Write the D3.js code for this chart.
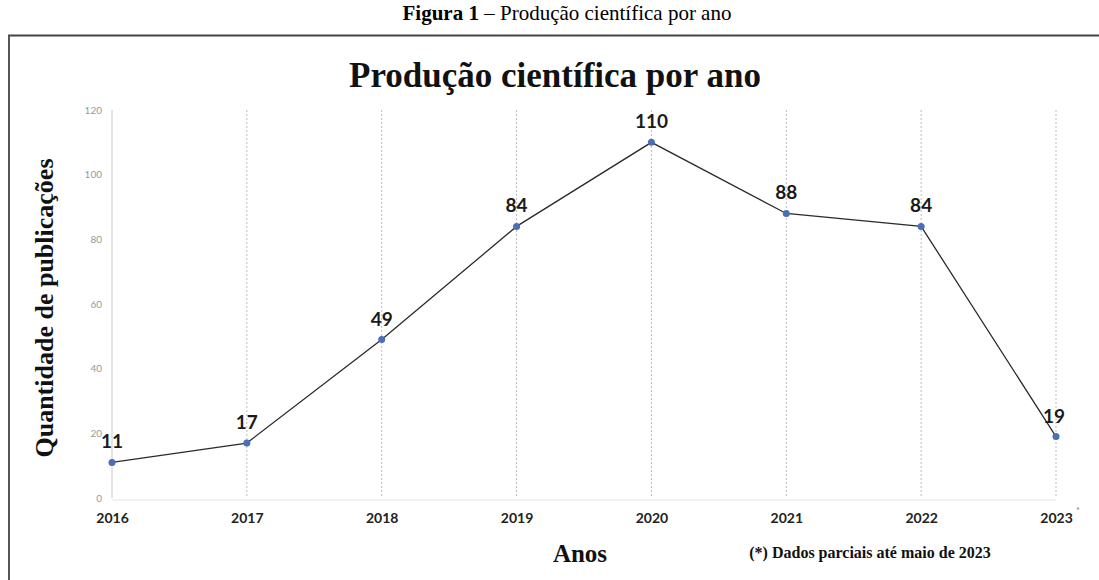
<!DOCTYPE html>
<html>
<head>
<meta charset="utf-8">
<script src="https://cdn.jsdelivr.net/npm/d3@7"></script>
<style>
  body { margin: 0; background: #fff; }
  svg { display: block; }
</style>
</head>
<body>
<script>
var anos = ["2016","2017","2018","2019","2020","2021","2022","2023"];
var publicacoes = [11,17,49,84,110,88,84,19];
var yTicks = [0,20,40,60,80,100,120];

var w = 1099, h = 580;
var svg = d3.select("body").append("svg")
    .attr("width", w)
    .attr("height", h);

// moldura da figura
svg.append("line").attr("x1", 8).attr("x2", w).attr("y1", 35.5).attr("y2", 35.5)
    .attr("stroke", "#444").attr("stroke-width", 2);
svg.append("line").attr("x1", 9).attr("x2", 9).attr("y1", 35).attr("y2", h)
    .attr("stroke", "#555").attr("stroke-width", 2);

// legenda da figura
var cap = svg.append("text")
    .attr("x", 567).attr("y", 20)
    .attr("text-anchor", "middle")
    .style("font-family", "'Liberation Serif', 'Times New Roman', serif")
    .style("font-size", "21px");
cap.append("tspan").attr("font-weight", "bold").text("Figura 1");
cap.append("tspan").text(" – Produção científica  por ano");

// titulo
svg.append("text")
    .attr("x", 555).attr("y", 87)
    .attr("text-anchor", "middle")
    .style("font-family", "'Liberation Serif', 'Times New Roman', serif")
    .style("font-weight", "bold")
    .style("font-size", "35px")
    .style("fill", "#111")
    .text("Produção científica por ano");

var x = d3.scalePoint()
    .domain(anos)
    .range([112, 1056]);

var y = d3.scaleLinear()
    .domain([0, 120])
    .range([498, 110]);

// linhas verticais pontilhadas
svg.selectAll(".grade")
    .data(anos)
    .enter().append("line")
    .attr("class", "grade")
    .attr("x1", function(d){ return x(d); })
    .attr("x2", function(d){ return x(d); })
    .attr("y1", y(120))
    .attr("y2", y(0))
    .attr("stroke", function(d,i){ return i == 0 ? "#c8c8c8" : "#bbb"; })
    .attr("stroke-width", 1)
    .attr("stroke-dasharray", function(d,i){ return i == 0 ? null : "2,2"; });

// linha base
svg.append("line")
    .attr("x1", x(anos[0])).attr("x2", x(anos[anos.length-1]))
    .attr("y1", y(0) + 2).attr("y2", y(0) + 2)
    .attr("stroke", "#e2e2e2");

// eixo y
var eixoY = svg.append("g")
    .attr("transform", "translate(" + (x(anos[0]) - 8) + ",0)")
    .call(d3.axisLeft(y).tickValues(yTicks).tickSize(0).tickPadding(2));
eixoY.select(".domain").remove();
eixoY.selectAll("text")
    .style("font-family", "Lato, 'Open Sans', sans-serif")
    .style("font-size", "10px")
    .style("fill", "#999");

// eixo x
var eixoX = svg.append("g")
    .attr("transform", "translate(0," + (y(0) + 12) + ")")
    .call(d3.axisBottom(x).tickSize(0).tickPadding(3));
eixoX.select(".domain").remove();
eixoX.selectAll("text")
    .style("font-family", "Lato, 'Open Sans', sans-serif")
    .style("font-weight", "bold")
    .style("font-size", "14px")
    .style("fill", "#222");

// asterisco 2023
svg.append("text")
    .attr("x", x("2023") + 20).attr("y", 514)
    .style("font-family", "Lato, sans-serif")
    .style("font-size", "9px")
    .style("fill", "#777")
    .text("*");

// linha
var linha = d3.line()
    .x(function(d,i){ return x(anos[i]); })
    .y(function(d){ return y(d); });

svg.append("path")
    .datum(publicacoes)
    .attr("d", linha)
    .attr("fill", "none")
    .attr("stroke", "#2b2b2b")
    .attr("stroke-width", 1.3);

svg.selectAll(".ponto")
    .data(publicacoes)
    .enter().append("circle")
    .attr("class", "ponto")
    .attr("cx", function(d,i){ return x(anos[i]); })
    .attr("cy", function(d){ return y(d); })
    .attr("r", 3.5)
    .attr("fill", "#4a6fb5");

// rotulos de dados
svg.selectAll(".rotulo")
    .data(publicacoes)
    .enter().append("text")
    .attr("class", "rotulo")
    .attr("x", function(d,i){ return x(anos[i]) + (i == anos.length-1 ? -2 : 0); })
    .attr("y", function(d){ return y(d) - 14; })
    .attr("text-anchor", "middle")
    .style("font-family", "Lato, 'Open Sans', sans-serif")
    .style("font-weight", "bold")
    .style("font-size", "19px")
    .style("fill", "#1a1a1a")
    .text(function(d){ return d; });

// titulos dos eixos
svg.append("text")
    .attr("transform", "translate(53,308) rotate(-90)")
    .attr("text-anchor", "middle")
    .style("font-family", "'Liberation Serif', 'Times New Roman', serif")
    .style("font-weight", "bold")
    .style("font-size", "26px")
    .style("fill", "#111")
    .text("Quantidade de publicações");

svg.append("text")
    .attr("x", 580).attr("y", 562)
    .attr("text-anchor", "middle")
    .style("font-family", "'Liberation Serif', 'Times New Roman', serif")
    .style("font-weight", "bold")
    .style("font-size", "25px")
    .style("fill", "#111")
    .text("Anos");

svg.append("text")
    .attr("x", 870).attr("y", 558)
    .attr("text-anchor", "middle")
    .style("font-family", "'Liberation Serif', 'Times New Roman', serif")
    .style("font-weight", "bold")
    .style("font-size", "16px")
    .style("fill", "#111")
    .text("(*) Dados parciais até maio de 2023");
</script>
</body>
</html>
